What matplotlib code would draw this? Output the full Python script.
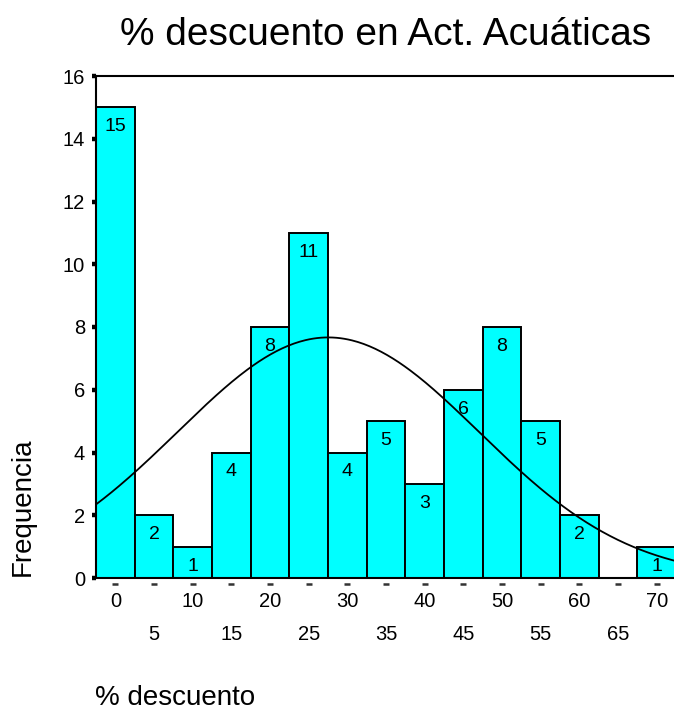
import numpy as np
import matplotlib
matplotlib.use("Agg")
import matplotlib.pyplot as plt

plt.rcParams['font.family'] = ['Liberation Sans', 'DejaVu Sans']

# Data
bin_centers = [0, 5, 10, 15, 20, 25, 30, 35, 40, 45, 50, 55, 60, 65, 70]
counts = [15, 2, 1, 4, 8, 11, 4, 5, 3, 6, 8, 5, 2, 0, 1]
bin_width = 5
title = "% descuento en Act. Acuáticas"
xlabel = "% descuento"
ylabel = "Frequencia"
yticks = [0, 2, 4, 6, 8, 10, 12, 14, 16]

fig = plt.figure(figsize=(6.74, 7.13), dpi=100)
W, H = 674, 713
left, right, top, bottom = 96, 676, 76, 578
ax = fig.add_axes([left / W, (H - bottom) / H, (right - left) / W, (bottom - top) / H])

ax.bar(bin_centers, counts, width=bin_width, color='#00FFFF', edgecolor='black', linewidth=1.4, zorder=2)

for x, c in zip(bin_centers, counts):
    if c > 0:
        ax.text(x, c - 0.62, str(c), ha='center', va='center', fontsize=14, zorder=4)

# Normal curve from the data
x_arr = np.array(bin_centers, dtype=float)
c_arr = np.array(counts, dtype=float)
n = c_arr.sum()
mu = (x_arr * c_arr).sum() / n
sd = np.sqrt(((x_arr - mu) ** 2 * c_arr).sum() / (n - 1))
xs = np.linspace(-2.5, 72.5, 300)
ys = n * bin_width / (sd * np.sqrt(2 * np.pi)) * np.exp(-0.5 * ((xs - mu) / sd) ** 2)
ax.plot(xs, ys, color='black', linewidth=1.3, zorder=3)

ax.set_xlim(-2.5, 72.5)
ax.set_ylim(0, 16)

ax.spines['right'].set_visible(False)
for s in ['left', 'top', 'bottom']:
    ax.spines[s].set_linewidth(1.5)

ax.set_yticks(yticks)
ax.set_yticklabels([str(v) for v in yticks], fontsize=14.5)
ax.tick_params(axis='y', direction='out', length=3, width=3.2, pad=5)

major = [v for v in bin_centers if v % 10 == 0]
minor = [v for v in bin_centers if v % 10 != 0]
ax.set_xticks(major)
ax.set_xticklabels([str(v) for v in major], fontsize=14.5)
ax.set_xticks(minor, minor=True)
ax.set_xticklabels([str(v) for v in minor], minor=True, fontsize=14.5)
ax.tick_params(axis='x', which='major', length=0, pad=10)
ax.tick_params(axis='x', which='minor', length=0, pad=34)

# small dash tick marks below axis
ax.plot(bin_centers, [-0.012] * len(bin_centers), transform=ax.get_xaxis_transform(),
        linestyle='none', marker='_', markersize=5, markeredgewidth=1.8, color='#333333', clip_on=False)

fig.text(386 / W, 1 - 45 / H, title, ha='center', va='baseline', fontsize=28)
fig.text(23 / W, 1 - 507 / H, ylabel, rotation=90, ha='center', va='center', fontsize=20)
fig.text(95 / W, 1 - 705 / H, xlabel, ha='left', va='baseline', fontsize=20)

fig.savefig("out.png", dpi=100)
